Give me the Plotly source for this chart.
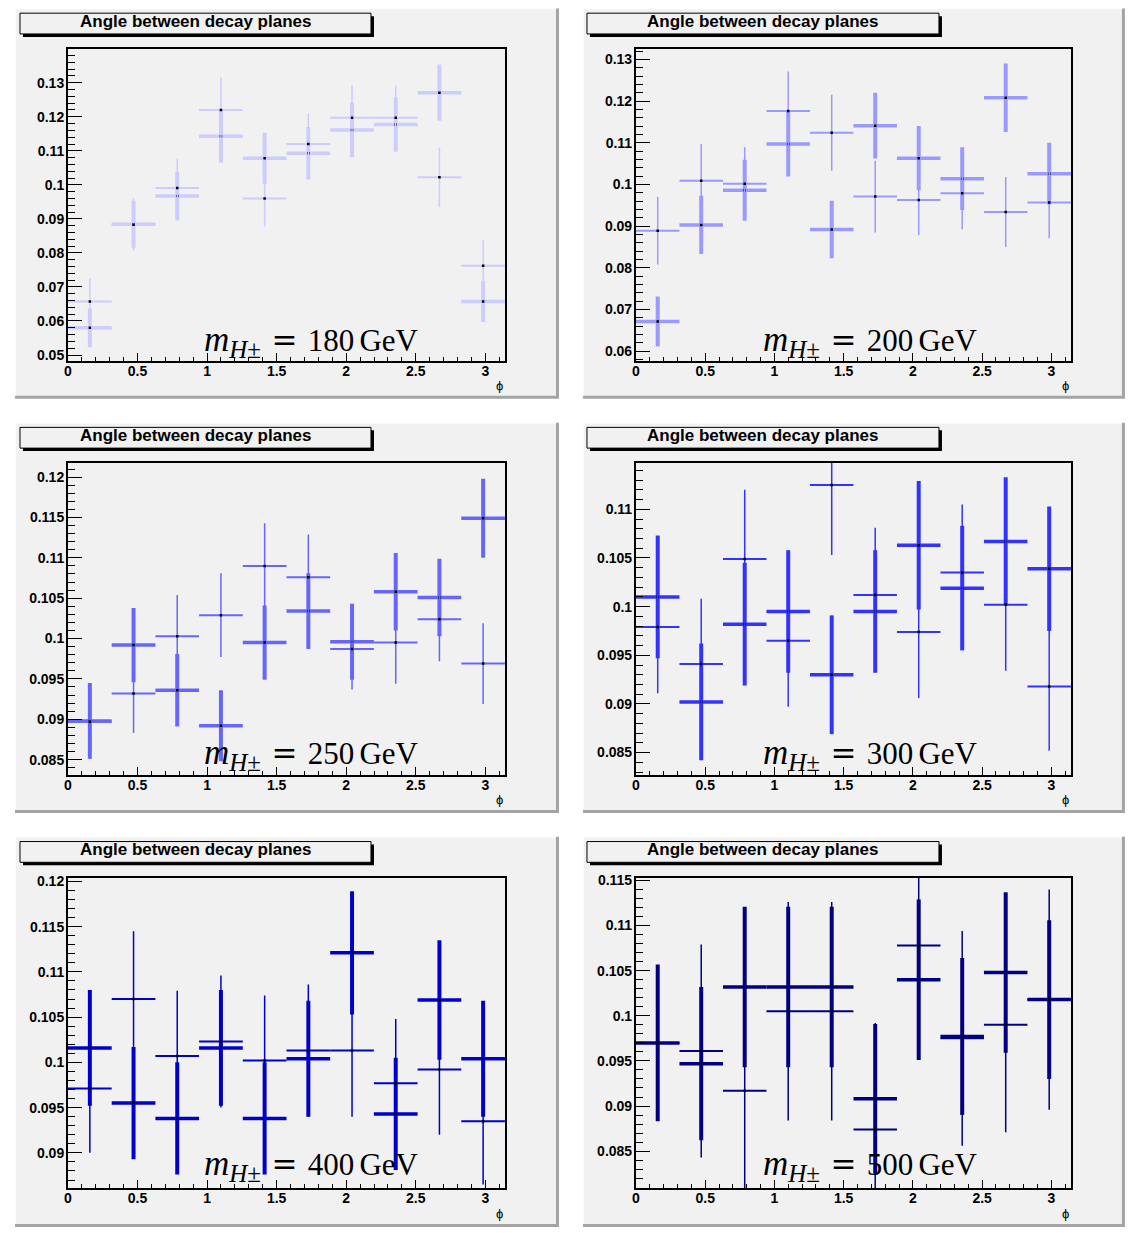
import numpy as np
import plotly.graph_objects as go

# ---------------------------------------------------------------
# Normalised distributions of the angle between the two decay
# planes, for six charged-Higgs masses.  Each panel overlays two
# histograms (thin and thick error crosses), 10 bins over [0, pi].
# ---------------------------------------------------------------
N_BINS = 10
MASSES = ["180", "200", "250", "300", "400", "500"]

thin_180 = [0.0657, 0.0883, 0.0991, 0.1220, 0.0960, 0.1120, 0.1197, 0.1197, 0.1022, 0.0762]
thin_180_err = [0.0069, 0.0077, 0.0086, 0.0096, 0.0083, 0.0090, 0.0095, 0.0095, 0.0088, 0.0075]
thick_180 = [0.0580, 0.0884, 0.0967, 0.1143, 0.1078, 0.1093, 0.1161, 0.1177, 0.1271, 0.0657]
thick_180_err = [0.0057, 0.0069, 0.0071, 0.0078, 0.0075, 0.0077, 0.0080, 0.0080, 0.0083, 0.0060]

thin_200 = [0.0889, 0.1009, 0.1002, 0.1176, 0.1124, 0.0971, 0.0963, 0.0979, 0.0934, 0.0957]
thin_200_err = [0.0081, 0.0088, 0.0087, 0.0095, 0.0091, 0.0086, 0.0084, 0.0087, 0.0084, 0.0086]
thick_200 = [0.0671, 0.0903, 0.0986, 0.1097, 0.0892, 0.1141, 0.1063, 0.1014, 0.1208, 0.1026]
thick_200_err = [0.0060, 0.0070, 0.0073, 0.0078, 0.0069, 0.0079, 0.0077, 0.0075, 0.0082, 0.0074]

thin_250 = [0.0897, 0.0932, 0.1003, 0.1029, 0.1090, 0.1076, 0.0987, 0.0995, 0.1024, 0.0969]
thin_250_err = [0.0046, 0.0049, 0.0051, 0.0052, 0.0053, 0.0053, 0.0050, 0.0051, 0.0052, 0.0050]
thick_250 = [0.0898, 0.0992, 0.0936, 0.0892, 0.0995, 0.1034, 0.0996, 0.1058, 0.1051, 0.1149]
thick_250_err = [0.0047, 0.0046, 0.0045, 0.0044, 0.0046, 0.0047, 0.0047, 0.0048, 0.0048, 0.0049]

thin_300 = [0.0979, 0.0941, 0.1049, 0.0965, 0.1125, 0.1012, 0.0974, 0.1035, 0.1002, 0.0918]
thin_300_err = [0.0068, 0.0067, 0.0071, 0.0068, 0.0072, 0.0069, 0.0068, 0.0070, 0.0068, 0.0066]
thick_300 = [0.1010, 0.0902, 0.0982, 0.0995, 0.0930, 0.0995, 0.1063, 0.1019, 0.1067, 0.1039]
thick_300_err = [0.0063, 0.0060, 0.0063, 0.0063, 0.0061, 0.0063, 0.0066, 0.0064, 0.0066, 0.0064]

thin_400 = [0.0971, 0.1070, 0.1007, 0.1023, 0.1002, 0.1013, 0.1013, 0.0977, 0.0992, 0.0935]
thin_400_err = [0.0071, 0.0075, 0.0072, 0.0073, 0.0072, 0.0073, 0.0073, 0.0071, 0.0072, 0.0070]
thick_400 = [0.1016, 0.0955, 0.0938, 0.1016, 0.0938, 0.1004, 0.1121, 0.0943, 0.1069, 0.1004]
thick_400_err = [0.0064, 0.0062, 0.0062, 0.0064, 0.0062, 0.0064, 0.0068, 0.0062, 0.0066, 0.0064]

thin_500 = [0.0970, 0.0961, 0.0917, 0.1005, 0.1005, 0.0874, 0.1078, 0.0975, 0.0990, 0.1018]
thin_500_err = [0.0085, 0.0118, 0.0120, 0.0121, 0.0121, 0.0118, 0.0120, 0.0119, 0.0119, 0.0122]
thick_500 = [0.0970, 0.0947, 0.1032, 0.1032, 0.1032, 0.0908, 0.1040, 0.0977, 0.1048, 0.1018]
thick_500_err = [0.0087, 0.0085, 0.0089, 0.0089, 0.0089, 0.0083, 0.0089, 0.0087, 0.0089, 0.0088]

# y-axis windows and major tick spacing of each panel
Y_RANGES = [(0.0483, 0.1398), (0.0577, 0.1324), (0.0831, 0.1218),
            (0.0827, 0.1148), (0.0861, 0.1204), (0.0809, 0.1153)]
Y_DTICK = [0.01, 0.01, 0.005, 0.005, 0.005, 0.005]

COLOURS = ["rgb(204,204,255)", "rgb(153,153,255)", "rgb(102,102,255)",
           "rgb(51,51,255)", "rgb(0,0,204)", "rgb(0,0,128)"]

THIN = [(thin_180, thin_180_err), (thin_200, thin_200_err), (thin_250, thin_250_err),
        (thin_300, thin_300_err), (thin_400, thin_400_err), (thin_500, thin_500_err)]
THICK = [(thick_180, thick_180_err), (thick_200, thick_200_err), (thick_250, thick_250_err),
         (thick_300, thick_300_err), (thick_400, thick_400_err), (thick_500, thick_500_err)]

bin_width = np.pi / N_BINS
phi_centres = (np.arange(N_BINS) + 0.5) * bin_width

# ---------------------------------------------------------------
# page geometry (pixels, origin top-left)
# ---------------------------------------------------------------
W, H = 1128, 1233
PAD_L = [15, 583]
PAD_R = [559, 1125]
PAD_T0, PAD_H, ROW_STEP = 8, 391, 415
FRAME_X = [(68, 505), (636, 1071)]
FRAME_Y = [(49, 361), (463, 776), (879, 1190)]
TITLE_X = [(20, 371), (587, 939)]
LABEL_CX = [312, 871]
LABEL_Y = [342, 755, 1167]

PAD_FILL = "#f1f1f1"
SANS = "Liberation Sans, Arial, Helvetica, sans-serif"
SERIF = "Liberation Serif, Times New Roman, serif"

# small correction so the page content fills the full canvas
OFF_X, SCL_X = 4.0, 0.9965
OFF_Y, SCL_Y = 4.5, 0.9963


def px(x):
    return ((x - OFF_X) / SCL_X) / W


def py(y):
    return 1 - ((y - OFF_Y) / SCL_Y) / H


def mass_label(mass):
    return ('<span style="font-size:35px"><i>m</i></span>'
            '<sub><span style="font-size:25px"><i>H</i>±</span></sub>'
            '\u2004<span style="font-family:DejaVu Serif">=</span>\u2004'
            f'{mass}\u2006GeV')


fig = go.Figure()
shapes = []
annotations = []
axes = {}

for k in range(6):
    r, c = divmod(k, 2)
    n = k + 1
    xname = "x" if n == 1 else f"x{n}"
    yname = "y" if n == 1 else f"y{n}"
    colour = COLOURS[k]

    # pad: dark bevel on the lower/right side, light on the upper/left side
    top = PAD_T0 + ROW_STEP * r
    bot = top + PAD_H
    shapes.append(dict(type="rect", xref="paper", yref="paper", layer="below",
                       x0=px(PAD_L[c]), x1=px(PAD_R[c]), y0=py(bot), y1=py(top),
                       fillcolor="#a4a4a4", line=dict(width=0)))
    shapes.append(dict(type="rect", xref="paper", yref="paper", layer="below",
                       x0=px(PAD_L[c]), x1=px(PAD_R[c] - 3), y0=py(bot - 3), y1=py(top),
                       fillcolor=PAD_FILL, line=dict(width=0)))
    shapes.append(dict(type="path", xref="paper", yref="paper", layer="below",
                       path=f"M {px(PAD_L[c])} {py(bot - 3)} L {px(PAD_L[c])} {py(top)} "
                            f"L {px(PAD_R[c] - 3)} {py(top)}",
                       line=dict(color="white", width=1.5)))

    # title box with its drop shadow
    tx0, tx1 = TITLE_X[c]
    ty0 = 12.7 + ROW_STEP * r
    ty1 = ty0 + 20.8
    shapes.append(dict(type="rect", xref="paper", yref="paper", layer="below",
                       x0=px(tx0 + 3), x1=px(tx1 + 3), y0=py(ty1 + 3), y1=py(ty0 + 3),
                       fillcolor="black", line=dict(width=0)))
    shapes.append(dict(type="rect", xref="paper", yref="paper", layer="below",
                       x0=px(tx0), x1=px(tx1), y0=py(ty1), y1=py(ty0),
                       fillcolor=PAD_FILL, line=dict(color="black", width=1)))
    annotations.append(dict(text="<b>Angle between decay planes</b>", xref="paper", yref="paper",
                            x=px((tx0 + tx1) / 2), y=py((ty0 + ty1) / 2 - 2), xanchor="center",
                            yanchor="middle", showarrow=False,
                            font=dict(family=SANS, size=17, color="black")))

    # mass label and axis title
    annotations.append(dict(
        text=mass_label(MASSES[k]),
        xref="paper", yref="paper", x=px(LABEL_CX[c]), y=py(LABEL_Y[r]),
        xanchor="center", yanchor="middle", showarrow=False,
        font=dict(family=SERIF, size=31, color="black")))
    fx0, fx1 = FRAME_X[c]
    fy0, fy1 = FRAME_Y[r]
    annotations.append(dict(text="ϕ", xref="paper", yref="paper",
                            x=px(fx1 - 5), y=py(fy1 + 25), xanchor="center", yanchor="middle",
                            showarrow=False, font=dict(family=SANS, size=13, color="black")))

    tickfont = dict(family=SANS, size=14, color="black", weight="bold")
    axes["xaxis" if n == 1 else f"xaxis{n}"] = dict(
        domain=[px(fx0), px(fx1)], anchor=yname, range=[0, np.pi],
        tick0=0, dtick=0.5, ticks="inside", ticklen=8, tickwidth=1, tickcolor="black",
        minor=dict(tick0=0, dtick=0.1, ticks="inside", ticklen=4, tickwidth=1, tickcolor="black"),
        showline=True, linewidth=2, linecolor="black", mirror=True,
        showgrid=False, zeroline=False, tickfont=tickfont, ticklabelstandoff=-4)
    dt = Y_DTICK[k]
    axes["yaxis" if n == 1 else f"yaxis{n}"] = dict(
        domain=[py(fy1), py(fy0)], anchor=xname, range=list(Y_RANGES[k]),
        tick0=0, dtick=dt, ticks="inside", ticklen=14, tickwidth=1, tickcolor="black",
        minor=dict(tick0=0, dtick=dt / 5, ticks="inside", ticklen=7, tickwidth=1, tickcolor="black"),
        showline=True, linewidth=2, linecolor="black", mirror=True,
        showgrid=False, zeroline=False, tickfont=tickfont, ticklabelstandoff=-1)

    # thick crosses first, thin crosses on top
    for (vals, errs), v_w, h_w in ((THICK[k], 4, 3.5), (THIN[k], 1.5, 2)):
        fig.add_trace(go.Scatter(
            x=phi_centres, y=vals, mode="markers", xaxis=xname, yaxis=yname,
            marker=dict(size=2.5, color="black", symbol="square", line=dict(width=0)),
            error_x=dict(type="constant", value=bin_width / 2, width=0,
                         thickness=h_w, color=colour),
            error_y=dict(type="data", array=errs, width=0, thickness=v_w, color=colour),
            showlegend=False, hoverinfo="skip"))

fig.update_layout(
    width=W, height=H, margin=dict(l=0, r=0, t=0, b=0),
    paper_bgcolor="white", plot_bgcolor="rgba(0,0,0,0)",
    shapes=shapes, annotations=annotations, showlegend=False, **axes)

fig.write_html("out.html")
